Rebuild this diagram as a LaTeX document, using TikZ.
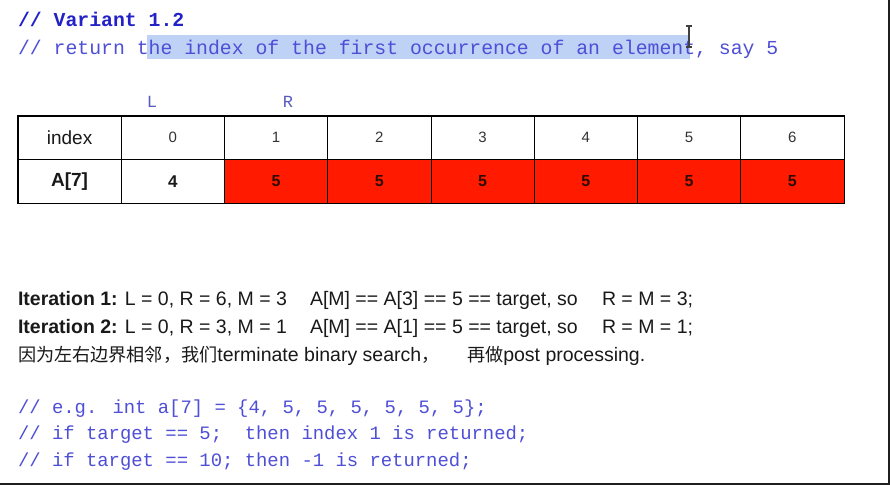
\documentclass[tikz,border=0pt]{standalone}
\usepackage{fontspec}
\setmainfont{Liberation Sans}
\newfontfamily\mono{Liberation Mono}
\newfontfamily\cjk[Scale=0.93]{Noto Sans CJK SC}
\definecolor{codebold}{RGB}{34,34,200}
\definecolor{codeblue}{RGB}{78,78,214}
\definecolor{lrcol}{RGB}{90,90,190}
\definecolor{hl}{RGB}{190,210,246}
\definecolor{cellred}{RGB}{255,26,0}
\definecolor{txtdark}{RGB}{25,25,25}
\definecolor{fivecol}{RGB}{45,12,0}
\begin{document}
\begin{tikzpicture}[x=1pt,y=-1pt,
  txt/.style={anchor=base west, inner sep=0pt, outer sep=0pt},
  codetop/.style={txt, font=\mono\fontsize{19.8}{20}\selectfont, text=codeblue},
  codebot/.style={txt, font=\mono\fontsize{18.9}{20}\selectfont, text=codeblue},
  body/.style={txt, font=\fontsize{19.5}{20}\selectfont, text=txtdark},
  cell/.style={draw=black, line width=0.9pt, minimum width=103.25pt, minimum height=43.5pt, inner sep=0pt, anchor=center, text=txtdark},
  redcell/.style={cell, fill=cellred, text=fivecol, font=\bfseries\fontsize{16}{16}\selectfont},
  idxnum/.style={cell, font=\fontsize{15}{15}\selectfont, text=black!80},
  ptr/.style={anchor=base, inner sep=0pt, font=\mono\fontsize{17}{17}\selectfont, text=lrcol},
  cursor/.style={draw=black!75, line width=1.1pt}
]
\useasboundingbox (0,0) rectangle (890,485);
% highlight
\fill[hl] (147,35) rectangle (690,59);
% top code
\node[codetop, text=codebold, font=\mono\bfseries\fontsize{19.8}{20}\selectfont] (v1) at (18,26) {// Variant 1.2};
\node[codetop] (v2) at (18,54) {// return the index of the first occurrence of an element, say 5};
% cursor
\draw[cursor] (686,26) -- (692,26) (689,26) -- (689,47) (686,47) -- (692,47);
% pointers
\node[ptr] (L) at (152,107) {L};
\node[ptr] (R) at (288,107) {R};
% table row 1
\node[cell, font=\fontsize{19}{19}\selectfont] (c00) at (69.6,137.75) {index};
\node[idxnum] (c01) at (172.9,137.75) {0};
\node[idxnum] (c02) at (276.1,137.75) {1};
\node[idxnum] (c03) at (379.4,137.75) {2};
\node[idxnum] (c04) at (482.6,137.75) {3};
\node[idxnum] (c05) at (585.9,137.75) {4};
\node[idxnum] (c06) at (689.1,137.75) {5};
\node[idxnum] (c07) at (792.4,137.75) {6};
% table row 2
\node[cell, font=\bfseries\fontsize{19}{19}\selectfont] (c10) at (69.6,181.25) {A[7]};
\node[cell, font=\bfseries\fontsize{17}{17}\selectfont] (c11) at (172.9,181.25) {4};
\node[redcell] (c12) at (276.1,181.25) {5};
\node[redcell] (c13) at (379.4,181.25) {5};
\node[redcell] (c14) at (482.6,181.25) {5};
\node[redcell] (c15) at (585.9,181.25) {5};
\node[redcell] (c16) at (689.1,181.25) {5};
\node[redcell] (c17) at (792.4,181.25) {5};
\draw[line width=1.4pt] (c00.north west) rectangle (c17.south east);
% iterations
\node[body] (it1a) at (18,305) {\textbf{Iteration 1:} L = 0, R = 6, M = 3};
\node[body] (it1b) at (310,305) {A[M] == A[3] == 5 == target, so};
\node[body] (it1c) at (602,305) {R = M = 3;};
\node[body] (it2a) at (18,333) {\textbf{Iteration 2:} L = 0, R = 3, M = 1};
\node[body] (it2b) at (310,333) {A[M] == A[1] == 5 == target, so};
\node[body] (it2c) at (602,333) {R = M = 1;};
\node[body] (cn1) at (18,361) {{\cjk 因为左右边界相邻，我们}terminate binary search{\cjk ，}};
\node[body] (cn2) at (467,361) {{\cjk 再做}post processing.};
% bottom code
\node[codebot] (e1) at (18,413) {// e.g. int a[7] = \{4, 5, 5, 5, 5, 5, 5\};};
\node[codebot] (e2) at (18,439) {// if target == 5;\ \ then index 1 is returned;};
\node[codebot] (e3) at (18,466) {// if target == 10; then -1 is returned;};
% frame
\draw[line width=2.2pt, black!88] (0,483.9) -- (888.9,483.9) -- (888.9,0);
\end{tikzpicture}
\end{document}
